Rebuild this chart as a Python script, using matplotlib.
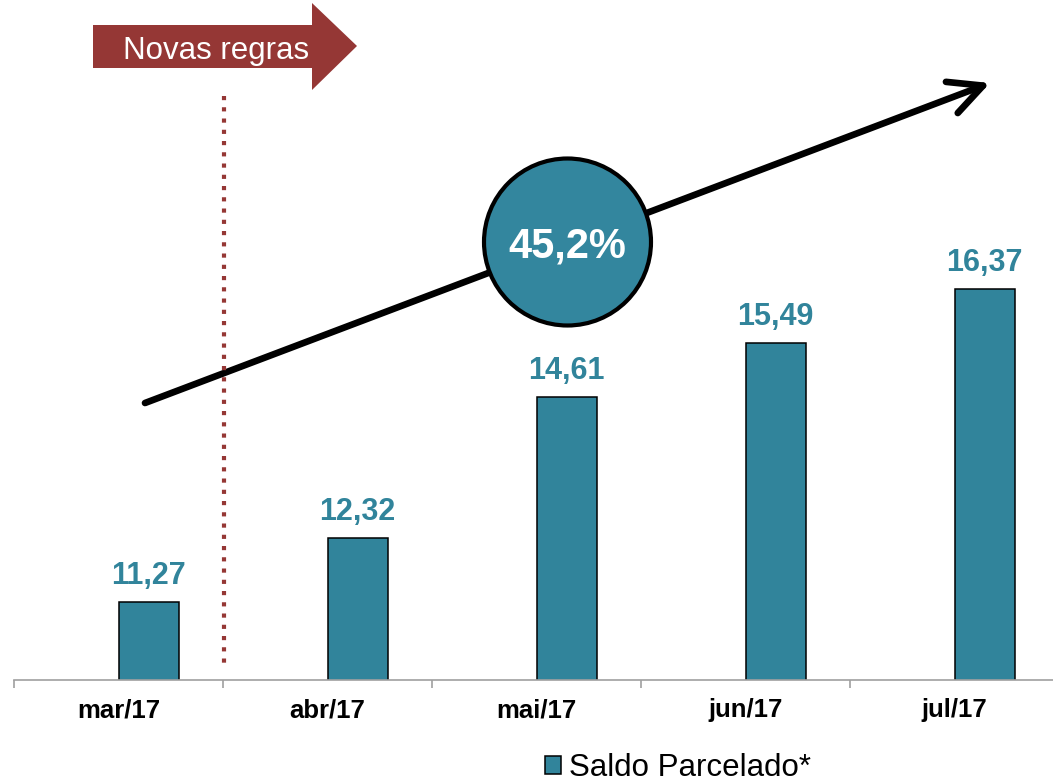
import matplotlib
matplotlib.use("Agg")
import matplotlib.pyplot as plt
from matplotlib.patches import Polygon, Circle, FancyArrowPatch, Patch
from matplotlib.lines import Line2D

# data
months = ["mar/17", "abr/17", "mai/17", "jun/17", "jul/17"]
saldo = [11.27, 12.32, 14.61, 15.49, 16.37]
saldo_labels = ["11,27", "12,32", "14,61", "15,49", "16,37"]
growth_label = "45,2%"
series_name = "Saldo Parcelado*"

teal = "#31849B"
darkred = "#953735"
W, H = 1053, 783

plt.rcParams['font.family'] = ['Liberation Sans', 'DejaVu Sans']

fig = plt.figure(figsize=(W / 100, H / 100), dpi=100)
ax = fig.add_axes([14 / W, 1 - 680 / H, (W - 14) / W, 680 / H])


def inch(x, y):
    # reference pixel position -> figure inches (origin bottom-left)
    return (x / 100, (H - y) / 100)


# bars sit to the right of the category centre
x = list(range(len(months)))
w = 0.287
ax.bar(x, saldo, width=w, align="edge", color=teal, edgecolor="black", linewidth=1.1)
for xi, v, lab in zip(x, saldo, saldo_labels):
    ax.annotate(lab, (xi + w / 2, v), xytext=(0, 13), textcoords="offset points",
                ha="center", va="baseline", fontsize=22, fontweight="bold", color=teal)

ax.set_xlim(-0.5, 4.47)
ax.set_ylim(10, 10 + 680 / 61.37)

# Remove the plot frame lines
for s in ["top", "right", "left"]:
    ax.spines[s].set_visible(False)
ax.spines["bottom"].set_color("#A0A0A0")
ax.spines["bottom"].set_linewidth(1.2)
ax.set_yticks([])
ax.set_xticks(x)
ax.set_xticklabels(months, fontsize=18.5, fontweight="bold")
ax.tick_params(axis="x", which="major", length=0, pad=13)
ax.set_xticks([i - 0.5 for i in x], minor=True)
ax.tick_params(axis="x", which="minor", length=6, width=1.2, color="#A0A0A0", direction="out")

# trend arrow
arrow = FancyArrowPatch(inch(145, 403), inch(990, 83), transform=fig.dpi_scale_trans,
                        arrowstyle="->,head_length=1.2,head_width=0.6", mutation_scale=20,
                        lw=4.8, color="black", capstyle="round", joinstyle="round",
                        shrinkA=0, shrinkB=0, zorder=2)
fig.add_artist(arrow)

# growth circle
circ = Circle(inch(567.5, 242), 0.835, transform=fig.dpi_scale_trans,
              facecolor="#33869E", edgecolor="black", lw=3, zorder=3)
fig.add_artist(circ)
fig.text(567.5 / W, 1 - 247 / H, growth_label, ha="center", va="center",
         fontsize=30, fontweight="bold", color="white", zorder=4)

# "Novas regras" block arrow
pts = [(93, 25), (312, 25), (312, 3), (357, 46), (312, 90), (312, 68), (93, 68)]
fig.add_artist(Polygon([inch(px, py) for px, py in pts], closed=True,
                       transform=fig.dpi_scale_trans, facecolor=darkred,
                       edgecolor="none", zorder=2))
fig.text(216 / W, 1 - 59 / H, "Novas regras", ha="center", va="baseline",
         fontsize=22.5, color="white", zorder=4)

# dotted separator
(x0, y0), (x1, y1) = inch(224, 96), inch(224, 666)
fig.add_artist(Line2D([x0, x1], [y0, y1], transform=fig.dpi_scale_trans, color=darkred,
                      lw=3, linestyle=(0, (1.0, 1.7)), solid_capstyle="butt",
                      dash_capstyle="butt", zorder=5))

# legend
handle = Patch(facecolor=teal, edgecolor="black", linewidth=1.1)
fig.legend([handle], [series_name], loc="center", bbox_to_anchor=(678 / W, 1 - 768 / H),
           frameon=False, fontsize=22.5, handlelength=0.5, handleheight=0.55,
           handletextpad=0.25, borderpad=0, borderaxespad=0)

fig.savefig("out.png", dpi=100)
